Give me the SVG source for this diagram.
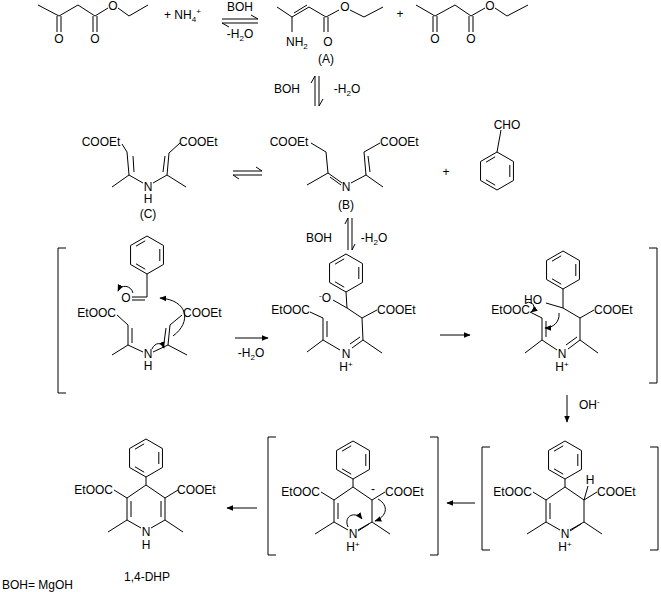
<svg xmlns="http://www.w3.org/2000/svg" xmlns:xlink="http://www.w3.org/1999/xlink" width="661" height="592" viewBox="0 0 661 592">
<style>
.b{stroke:#000;stroke-width:1;fill:none}
.t{font-family:"Liberation Sans",Arial,sans-serif;font-size:12px;fill:#000}
.m{text-anchor:middle}
.e{text-anchor:end}
.s{font-size:8px}
</style>
<defs>
<marker id="ah" viewBox="0 0 10 10" refX="9" refY="5" markerWidth="7" markerHeight="7" orient="auto"><path d="M0,1 L10,5 L0,9 z" fill="#000"/></marker>
<g id="ph" class="b"><polygon points="0,-19 16.45,-9.5 16.45,9.5 0,19 -16.45,9.5 -16.45,-9.5"/><line x1="12.8" y1="-6" x2="12.8" y2="6"/><line x1="-1.8" y1="14.2" x2="-11" y2="8.8"/><line x1="-11" y1="-8.8" x2="-1.8" y2="-14.2"/></g>
<g id="dhpcore" class="b"><line x1="0" y1="-8" x2="0" y2="0"/><polyline points="-32,5 -19,13 0,0 19,13 32,5"/><line x1="-19" y1="13" x2="-19" y2="35"/><line x1="19" y1="13" x2="19" y2="35"/><line x1="-19" y1="35" x2="-38" y2="47"/><line x1="19" y1="35" x2="37" y2="47"/><line x1="-19" y1="35" x2="-5" y2="43"/><line x1="19" y1="35" x2="5" y2="43"/><line x1="-15" y1="16" x2="-15" y2="32"/></g>
</defs>
<rect width="661" height="592" fill="#fff"/>

<g id="acetoacetate1"><polyline class="b" points="38,5 59,16 78,5 95,16 108,8"/><polyline class="b" points="118,8 129,16 148,5"/><line class="b" x1="57" y1="16" x2="57" y2="32"/><line class="b" x1="61" y1="16" x2="61" y2="32"/><line class="b" x1="93" y1="16" x2="93" y2="32"/><line class="b" x1="97" y1="16" x2="97" y2="32"/><text class="t m" x="113" y="10">O</text><text class="t m" x="59" y="43">O</text><text class="t m" x="95" y="43">O</text></g>
<g id="ammonium"><text class="t" x="164" y="19">+ NH<tspan class="s" dy="3">4</tspan><tspan class="s" dy="-8">+</tspan></text></g>
<g id="enamineA"><polyline class="b" points="277,7 292,17 309,7 326,17 339,10"/><polyline class="b" points="350,10 364,17 383,7"/><line class="b" x1="294" y1="13" x2="307" y2="5"/><line class="b" x1="292" y1="17" x2="292" y2="32"/><line class="b" x1="324" y1="17" x2="324" y2="32"/><line class="b" x1="328" y1="17" x2="328" y2="32"/><text class="t m" x="345" y="11">O</text><text class="t" x="286" y="46">NH<tspan class="s" dy="3">2</tspan></text><text class="t m" x="328" y="46">O</text><text class="t m" x="326" y="63">(A)</text></g>
<g id="plus1"><text class="t m" x="400" y="18">+</text></g>
<g id="acetoacetate2"><polyline class="b" points="416,5 435,16 455,5 471,16 485,8"/><polyline class="b" points="495,8 507,16 528,5"/><line class="b" x1="433" y1="16" x2="433" y2="32"/><line class="b" x1="437" y1="16" x2="437" y2="32"/><line class="b" x1="469" y1="16" x2="469" y2="32"/><line class="b" x1="473" y1="16" x2="473" y2="32"/><text class="t m" x="490" y="10">O</text><text class="t m" x="435" y="43">O</text><text class="t m" x="471" y="43">O</text></g>

<g id="compoundC"><text class="t m" x="101" y="146">COOEt</text><polyline class="b" points="122,144 127,152 129,175 112,187"/><line class="b" x1="133" y1="156" x2="134" y2="172"/><line class="b" x1="129" y1="175" x2="143" y2="183"/><text class="t m" x="148" y="191">N</text><text class="t m" x="148" y="203">H</text><polyline class="b" points="153,183 167,175 186,187"/><polyline class="b" points="167,175 169,153 180,143"/><line class="b" x1="163" y1="172" x2="165" y2="156"/><text class="t" x="179" y="146">COOEt</text><text class="t m" x="148" y="218">(C)</text></g>
<g id="compoundB"><text class="t m" x="289" y="146">COOEt</text><polyline class="b" points="311,143 326,152 328,173 307,185"/><line class="b" x1="328" y1="173" x2="342" y2="183"/><line class="b" x1="330" y1="177" x2="341" y2="185"/><text class="t m" x="346" y="191">N</text><polyline class="b" points="351,183 366,175 383,187"/><polyline class="b" points="366,175 364,152 380,143"/><line class="b" x1="370" y1="172" x2="368" y2="156"/><text class="t" x="380" y="146">COOEt</text><text class="t m" x="346" y="209">(B)</text></g>
<g id="plus2"><text class="t m" x="446" y="176">+</text></g>
<g id="benzaldehyde"><use xlink:href="#ph" href="#ph" transform="translate(497,171)"/><line class="b" x1="497" y1="152" x2="501" y2="130"/><text class="t m" x="507" y="129">CHO</text></g>

<g id="int1"><path class="b" d="M58,248 H66 M58,248 V393 H66"/><use xlink:href="#ph" href="#ph" transform="translate(147,255)"/><line class="b" x1="147" y1="274" x2="147" y2="297"/><line class="b" x1="147" y1="297" x2="132" y2="297"/><line class="b" x1="145" y1="300" x2="132" y2="300"/><text class="t m" x="126" y="302">O</text><text class="t e" x="116" y="317">EtOOC</text><polyline class="b" points="117,315 128,325 128,345 112,355"/><line class="b" x1="132" y1="328" x2="132" y2="343"/><line class="b" x1="128" y1="345" x2="143" y2="352"/><text class="t m" x="148" y="358">N</text><text class="t m" x="148" y="370">H</text><polyline class="b" points="153,352 168,345 187,355"/><polyline class="b" points="168,345 170,325 182,315"/><line class="b" x1="164" y1="343" x2="166" y2="328"/><text class="t" x="183" y="317">COOEt</text><path class="b" d="M173,336 C192,322 188,300 160,298" marker-end="url(#ah)"/><path class="b" d="M133,293 C131,285 121,284 118,291" marker-end="url(#ah)"/><path class="b" d="M152,349 C155,342 162,342 164,348" marker-end="url(#ah)"/></g>
<g id="int2"><use xlink:href="#ph" href="#ph" transform="translate(346,273)"/><line class="b" x1="346" y1="292" x2="347" y2="308"/><line class="b" x1="347" y1="308" x2="333" y2="300"/><text class="t m" x="325" y="302"><tspan class="s" dy="-4">-</tspan><tspan dy="4">O</tspan></text><text class="t e" x="310" y="314">EtOOC</text><polyline class="b" points="310,312 323,318 323,340 307,352"/><line class="b" x1="327" y1="321" x2="327" y2="337"/><line class="b" x1="323" y1="340" x2="340" y2="350"/><polyline class="b" points="347,308 362,318 363,340 382,353"/><line class="b" x1="362" y1="318" x2="377" y2="310"/><line class="b" x1="363" y1="340" x2="352" y2="348"/><line class="b" x1="360" y1="337" x2="350" y2="344"/><text class="t" x="377" y="314">COOEt</text><text class="t m" x="346" y="358">N</text><text class="t m" x="346" y="371">H<tspan class="s" dy="-4">+</tspan></text></g>
<g id="int3"><use xlink:href="#ph" href="#ph" transform="translate(563,270)"/><line class="b" x1="563" y1="289" x2="563" y2="308"/><line class="b" x1="546" y1="303" x2="563" y2="308"/><text class="t m" x="533" y="304">HO</text><text class="t e" x="530" y="314">EtOOC</text><polyline class="b" points="530,312 542,318 542,340 525,353"/><line class="b" x1="546" y1="321" x2="546" y2="337"/><line class="b" x1="542" y1="340" x2="557" y2="350"/><polyline class="b" points="563,308 580,318 580,340 598,353"/><line class="b" x1="580" y1="318" x2="594" y2="310"/><line class="b" x1="580" y1="340" x2="568" y2="349"/><line class="b" x1="577" y1="337" x2="566" y2="345"/><text class="t" x="594" y="314">COOEt</text><text class="t m" x="562" y="358">N</text><text class="t m" x="562" y="371">H<tspan class="s" dy="-4">+</tspan></text><path class="b" d="M526,303 C533,300 537,308 531,312" marker-end="url(#ah)"/><path class="b" d="M559,313 C560,322 553,328 545,328" marker-end="url(#ah)"/><path class="b" d="M649,248 H657 V383 H649"/></g>

<g id="dhp4"><use xlink:href="#ph" href="#ph" transform="translate(146,458)"/><use xlink:href="#dhpcore" href="#dhpcore" transform="translate(146,485)"/><line class="b" x1="161" y1="501" x2="161" y2="517"/><text class="t e" x="113" y="494">EtOOC</text><text class="t" x="177" y="494">COOEt</text><text class="t m" x="146" y="536">N</text><text class="t m" x="146" y="549">H</text><text class="t m" x="147" y="581">1,4-DHP</text></g>
<g id="int5"><path class="b" d="M276,437 H268 V555 H276"/><use xlink:href="#ph" href="#ph" transform="translate(353,460)"/><use xlink:href="#dhpcore" href="#dhpcore" transform="translate(353,487)"/><line class="b" x1="369" y1="524" x2="358" y2="531"/><text class="t e" x="320" y="496">EtOOC</text><text class="t" x="385" y="496">COOEt</text><text class="t m" x="373" y="493">-</text><text class="t m" x="353" y="538">N</text><text class="t m" x="353" y="551">H<tspan class="s" dy="-4">+</tspan></text><path class="b" d="M348,527 C343,515 356,511 362,519" marker-end="url(#ah)"/><path class="b" d="M378,499 C390,506 386,517 375,521" marker-end="url(#ah)"/><path class="b" d="M430,437 H438 V555 H430"/></g>
<g id="int4"><path class="b" d="M490,447 H482 V550 H490"/><use xlink:href="#ph" href="#ph" transform="translate(565,460)"/><use xlink:href="#dhpcore" href="#dhpcore" transform="translate(565,487)"/><line class="b" x1="581" y1="524" x2="570" y2="531"/><line class="b" x1="584" y1="500" x2="588" y2="486"/><text class="t m" x="590" y="484">H</text><text class="t e" x="532" y="496">EtOOC</text><text class="t" x="597" y="496">COOEt</text><text class="t m" x="565" y="538">N</text><text class="t m" x="565" y="551">H<tspan class="s" dy="-4">+</tspan></text><path class="b" d="M650,447 H658 V550 H650"/></g>
<g id="legend"><text class="t" x="2" y="589">BOH=  MgOH</text></g>

<g id="connectors">
<polyline class="b" points="222,19 258,19 251,15"/><polyline class="b" points="258,23 222,23 229,27"/>
<text class="t m" x="240" y="11">BOH</text><text class="t m" x="240" y="38">-H<tspan class="s" dy="3">2</tspan><tspan dy="-3">O</tspan></text>
<polyline class="b" points="315,106 315,76 311,83"/><polyline class="b" points="319,76 319,106 323,99"/>
<text class="t m" x="287" y="93">BOH</text><text class="t m" x="347" y="93">-H<tspan class="s" dy="3">2</tspan><tspan dy="-3">O</tspan></text>
<polyline class="b" points="233,171 262,171 256,167"/><polyline class="b" points="262,175 233,175 239,179"/>
<polyline class="b" points="348,250 348,218 345,224"/><polyline class="b" points="352,218 352,250 355,244"/>
<text class="t m" x="319" y="242">BOH</text><text class="t m" x="374" y="242">-H<tspan class="s" dy="3">2</tspan><tspan dy="-3">O</tspan></text>
<line class="b" x1="235" y1="338" x2="268" y2="338" marker-end="url(#ah)"/>
<text class="t m" x="251" y="357">-H<tspan class="s" dy="3">2</tspan><tspan dy="-3">O</tspan></text>
<line class="b" x1="440" y1="335" x2="470" y2="335" marker-end="url(#ah)"/>
<line class="b" x1="567" y1="395" x2="567" y2="422" marker-end="url(#ah)"/>
<text class="t" x="579" y="409">OH<tspan class="s" dy="-5">-</tspan></text>
<line class="b" x1="475" y1="503" x2="447" y2="503" marker-end="url(#ah)"/>
<line class="b" x1="257" y1="508" x2="227" y2="508" marker-end="url(#ah)"/>
</g>
</svg>
